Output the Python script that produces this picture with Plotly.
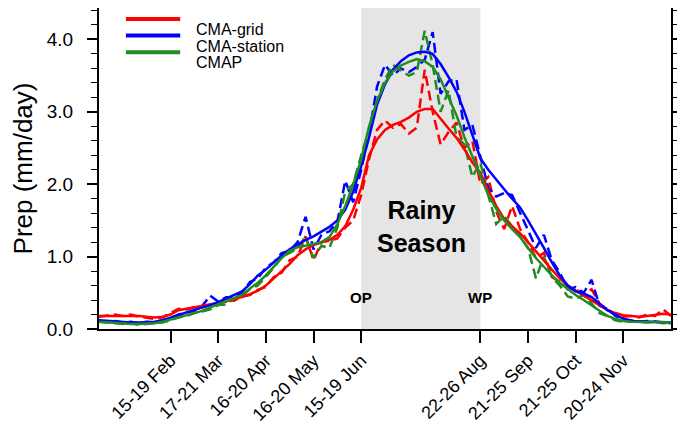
import plotly.graph_objects as go

# pentad index 1..73
pentad = list(range(1, 74))

tick_pos = [10, 16, 22, 28, 34, 49, 55, 61, 67]
tick_text = ["15-19 Feb", "17-21 Mar", "16-20 Apr", "16-20 May", "15-19 Jun",
             "22-26 Aug", "21-25 Sep", "21-25 Oct", "20-24 Nov"]

# smoothed curves (solid)
grid_smooth = [0.18, 0.18, 0.19, 0.19, 0.19, 0.18, 0.17, 0.16, 0.17, 0.20,
               0.26, 0.28, 0.30, 0.31, 0.33, 0.36, 0.38, 0.42, 0.44, 0.48,
               0.53, 0.60, 0.70, 0.80, 0.90, 1.02, 1.10, 1.16, 1.20, 1.23,
               1.30, 1.42, 1.65, 1.95, 2.40, 2.62, 2.75, 2.82, 2.86, 2.92,
               3.00, 3.04, 3.04, 2.90, 2.77, 2.64, 2.48, 2.30, 2.16, 1.92,
               1.70, 1.52, 1.42, 1.32, 1.20, 1.07, 0.94, 0.82, 0.70, 0.60,
               0.53, 0.46, 0.40, 0.33, 0.26, 0.22, 0.19, 0.18, 0.17, 0.18,
               0.19, 0.21, 0.20]
station_smooth = [0.12, 0.11, 0.10, 0.10, 0.09, 0.09, 0.09, 0.10, 0.12, 0.15,
                  0.19, 0.23, 0.26, 0.30, 0.33, 0.37, 0.42, 0.47, 0.52, 0.62,
                  0.74, 0.82, 0.92, 1.02, 1.10, 1.17, 1.23, 1.28, 1.34, 1.41,
                  1.50, 1.65, 1.90, 2.25, 2.65, 3.10, 3.38, 3.58, 3.70, 3.78,
                  3.82, 3.83, 3.80, 3.66, 3.48, 3.28, 3.00, 2.68, 2.36, 2.20,
                  2.06, 1.93, 1.80, 1.68, 1.50, 1.32, 1.12, 0.92, 0.74, 0.60,
                  0.52, 0.49, 0.44, 0.35, 0.26, 0.20, 0.14, 0.11, 0.10, 0.10,
                  0.10, 0.09, 0.09]
cmap_smooth = [0.10, 0.09, 0.08, 0.08, 0.07, 0.07, 0.07, 0.08, 0.10, 0.13,
               0.17, 0.20, 0.22, 0.25, 0.30, 0.34, 0.38, 0.42, 0.47, 0.56,
               0.64, 0.74, 0.86, 0.98, 1.08, 1.13, 1.15, 1.17, 1.20, 1.27,
               1.45, 1.70, 2.00, 2.34, 2.80, 3.15, 3.40, 3.56, 3.64, 3.69,
               3.73, 3.70, 3.62, 3.45, 3.20, 2.95, 2.65, 2.38, 2.10, 1.85,
               1.66, 1.50, 1.38, 1.27, 1.12, 0.98, 0.86, 0.74, 0.64, 0.55,
               0.47, 0.40, 0.33, 0.25, 0.18, 0.14, 0.11, 0.10, 0.10, 0.10,
               0.09, 0.09, 0.09]

# raw pentad values (dashed)
grid_raw = [0.17, 0.19, 0.20, 0.18, 0.20, 0.17, 0.15, 0.14, 0.16, 0.22,
            0.28, 0.27, 0.30, 0.30, 0.34, 0.34, 0.40, 0.39, 0.45, 0.47,
            0.54, 0.58, 0.72, 0.78, 0.95, 1.00, 1.28, 0.95, 1.20, 1.22,
            1.25, 1.40, 1.50, 1.85, 2.35, 2.75, 2.88, 2.78, 2.83, 2.70,
            2.78, 3.58, 3.00, 2.55, 2.72, 2.85, 2.50, 2.60, 2.00, 2.10,
            1.62, 1.38, 1.70, 1.38, 1.20, 0.98, 1.05, 0.72, 0.65, 0.56,
            0.55, 0.48, 0.55, 0.35, 0.28, 0.20, 0.17, 0.18, 0.16, 0.20,
            0.18, 0.27, 0.18]
station_raw = [0.11, 0.10, 0.11, 0.09, 0.10, 0.08, 0.10, 0.09, 0.12, 0.15,
               0.20, 0.22, 0.25, 0.32, 0.46, 0.38, 0.44, 0.44, 0.50, 0.65,
               0.70, 0.85, 0.92, 1.05, 1.08, 1.20, 1.55, 1.10, 1.30, 1.35,
               1.48, 2.05, 1.75, 2.20, 2.70, 3.35, 3.65, 3.50, 3.60, 3.55,
               3.62, 3.72, 4.10, 3.25, 3.42, 3.45, 2.75, 2.82, 2.40, 1.95,
               1.83, 1.88, 1.85, 1.60, 1.35, 1.12, 1.30, 0.95, 0.78, 0.55,
               0.58, 0.50, 0.68, 0.32, 0.28, 0.18, 0.14, 0.12, 0.10, 0.11,
               0.10, 0.10, 0.08]
cmap_raw = [0.10, 0.09, 0.08, 0.07, 0.08, 0.06, 0.07, 0.08, 0.09, 0.12,
            0.16, 0.18, 0.22, 0.24, 0.27, 0.33, 0.34, 0.42, 0.45, 0.55,
            0.60, 0.72, 0.85, 1.00, 1.05, 1.12, 1.28, 0.98, 1.15, 1.12,
            1.40, 1.90, 2.00, 2.40, 2.75, 3.15, 3.45, 3.65, 3.58, 3.50,
            3.55, 4.12, 3.65, 3.00, 3.30, 2.65, 2.55, 2.10, 2.30, 1.85,
            1.45, 1.56, 1.42, 1.28, 1.12, 0.70, 1.00, 0.72, 0.60, 0.45,
            0.42, 0.47, 0.35, 0.22, 0.18, 0.12, 0.10, 0.11, 0.10, 0.09,
            0.10, 0.08, 0.09]

names = ["CMA-grid", "CMA-station", "CMAP"]
colors = ["#ff0000", "#0000ff", "#228b22"]
smooth = [grid_smooth, station_smooth, cmap_smooth]
raw = [grid_raw, station_raw, cmap_raw]

FONT = "Liberation Sans, Arial, Helvetica, sans-serif"

fig = go.Figure()

for name, col, ys in zip(names, colors, raw):
    fig.add_trace(go.Scatter(
        x=pentad, y=ys, mode="lines", showlegend=False, name=name,
        line=dict(color=col, width=2.5, dash="10px,5px"),
    ))
for name, col, ys in zip(names, colors, smooth):
    fig.add_trace(go.Scatter(
        x=pentad, y=ys, mode="lines", showlegend=False, name=name,
        line=dict(color=col, width=2.5),
    ))

# hand-drawn legend, tighter than plotly's own
for i, (name, col) in enumerate(zip(names, colors)):
    yy = 0.966 - i * 0.052
    fig.add_shape(type="line", xref="paper", yref="paper",
                  x0=0.047, x1=0.142, y0=yy, y1=yy,
                  line=dict(color=col, width=4))
    fig.add_annotation(xref="paper", yref="paper", x=0.166, y=yy,
                       text=name, showarrow=False, xanchor="left",
                       font=dict(size=16, color="black", family=FONT))

# rainy season shading between onset and withdrawal pentads
fig.add_vrect(x0=34, x1=49, fillcolor="#e5e5e5", line_width=0, layer="below")

fig.add_annotation(x=41.6, y=1.41, text="<b>Rainy<br>Season</b>", showarrow=False,
                   font=dict(size=25, color="black", family=FONT))
fig.add_annotation(x=34, y=0.43, text="<b>OP</b>", showarrow=False,
                   font=dict(size=15, color="black", family=FONT))
fig.add_annotation(x=49, y=0.43, text="<b>WP</b>", showarrow=False,
                   font=dict(size=15, color="black", family=FONT))

# page body adds ~8px offset, so the figure is a bit smaller than the window
fig.update_layout(
    width=677, height=420,
    margin=dict(l=91, r=14, t=0, b=98.5),
    paper_bgcolor="white", plot_bgcolor="white",
    font=dict(family=FONT, color="black"),
    showlegend=False,
)
fig.update_xaxes(
    range=[1, 73], tickvals=tick_pos, ticktext=tick_text, tickangle=-45,
    ticks="outside", ticklen=12, tickwidth=1.5, tickcolor="black",
    showline=True, linecolor="black", linewidth=2, mirror=True,
    showgrid=False, zeroline=False, tickfont=dict(size=18), automargin=False,
)
fig.update_yaxes(
    range=[0, 4.434], tickvals=[0, 1, 2, 3, 4], tickformat=".1f",
    ticks="outside", ticklen=10, tickwidth=1.5, tickcolor="black",
    minor=dict(tickvals=[0.2 * k for k in range(23)], ticks="outside",
               ticklen=6, tickcolor="black", tickwidth=1),
    showline=True, linecolor="black", linewidth=2, mirror="ticks",
    showgrid=False, zeroline=False, tickfont=dict(size=19), automargin=False,
    ticklabelstandoff=10,
    title=dict(text="Prep (mm/day)", font=dict(size=26), standoff=8),
)

fig.write_html("out.html")
